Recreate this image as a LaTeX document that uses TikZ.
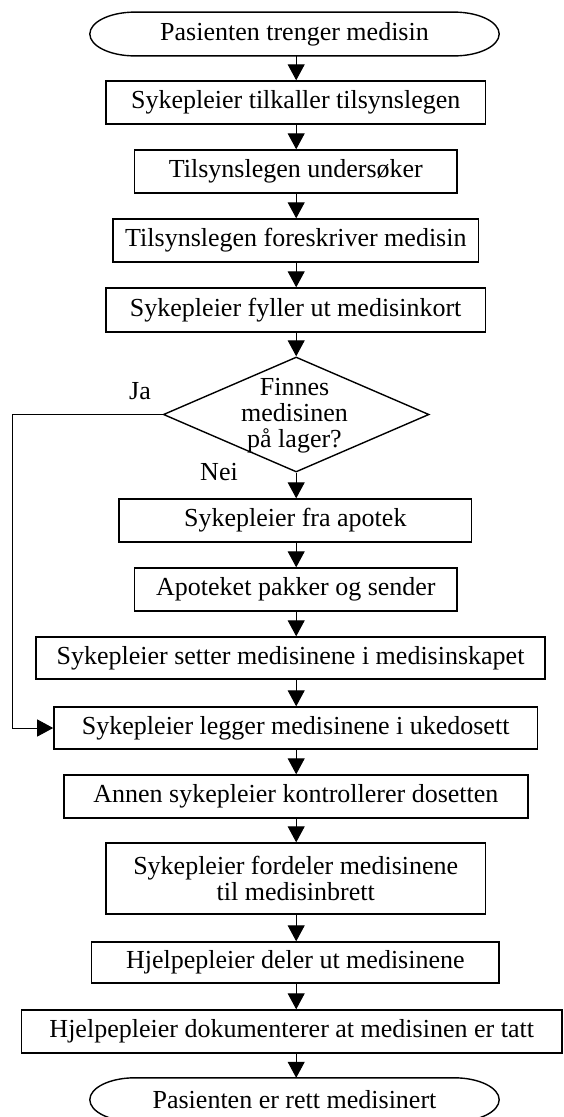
\documentclass[tikz,border=0pt]{standalone}
\usepackage{fontspec}
\setmainfont{Liberation Serif}
\usetikzlibrary{shapes.geometric,arrows.meta,calc}
\begin{document}
\begin{tikzpicture}[x=1pt,y=-1pt,
  every node/.style={font=\fontsize{26pt}{26pt}\selectfont, inner sep=0pt},
  box/.style={draw, line width=1.4pt, minimum height=43pt, align=center},
  term/.style={draw=none, minimum width=409pt, minimum height=43.4pt},
  dia/.style={draw, line width=1.4pt, shape=diamond, minimum width=265.7pt, minimum height=115pt},
  arr/.style={line width=1pt, -{Triangle[length=16pt,width=17pt]}},
  lbl/.style={font=\fontsize{26pt}{26pt}\selectfont}]
\useasboundingbox (0,0) rectangle (563,1117);

\node[term] (start) at (294.5,34) {Pasienten trenger medisin};
\node[box, minimum width=379.6pt] (b1) at (295.7,102.5) {Sykepleier tilkaller tilsynslegen};
\node[box, minimum width=322.5pt] (b2) at (295.9,171.5) {Tilsynslegen undersøker};
\node[box, minimum width=365.5pt] (b3) at (295.9,240.5) {Tilsynslegen foreskriver medisin};
\node[box, minimum width=379.6pt, minimum height=44pt] (b4) at (295.7,310) {Sykepleier fyller ut medisinkort};
\node[dia] (d) at (296.2,414.5) {};
\node[align=center] (dt) at (294.5,415.5) {Finnes\\medisinen\\på lager?};
\node[lbl] (ja) at (140,391) {Ja};
\node[lbl] (nei) at (219,472) {Nei};
\node[box, minimum width=352.3pt] (b5) at (295.3,520.5) {Sykepleier fra apotek};
\node[box, minimum width=322.5pt] (b6) at (295.9,589.5) {Apoteket pakker og sender};
\node[box, minimum width=509.2pt, minimum height=42pt] (b7) at (290.5,658) {Sykepleier setter medisinene i medisinskapet};
\node[box, minimum width=483.6pt, minimum height=42pt] (b8) at (295.7,728) {Sykepleier legger medisinene i ukedosett};
\node[box, minimum width=463.9pt] (b9) at (295.9,796.5) {Annen sykepleier kontrollerer dosetten};
\node[box, minimum width=379.6pt, minimum height=71pt] (b10) at (295.7,878.5) {Sykepleier fordeler medisinene\\til medisinbrett};
\node[box, minimum width=407.5pt, minimum height=41pt] (b11) at (295.3,962.5) {Hjelpepleier deler ut medisinene};
\node[box, minimum width=540.4pt] (b12) at (291.7,1031.5) {Hjelpepleier dokumenterer at medisinen er tatt};
\node[term] (end) at (294.5,1099.7) {Pasienten er rett medisinert};

\foreach \n in {start,end}
  \draw[line width=1.4pt] ([xshift=45pt]\n.north west) -- ([xshift=-45pt]\n.north east)
    .. controls ([xshift=-20.1pt]\n.north east) and ([yshift=12pt]\n.east) .. (\n.east)
    .. controls ([yshift=-12pt]\n.east) and ([xshift=-20.1pt]\n.south east) .. ([xshift=-45pt]\n.south east)
    -- ([xshift=45pt]\n.south west)
    .. controls ([xshift=20.1pt]\n.south west) and ([yshift=-12pt]\n.west) .. (\n.west)
    .. controls ([yshift=12pt]\n.west) and ([xshift=20.1pt]\n.north west) .. cycle;

\coordinate (c1) at (296.2,0);
\foreach \a/\b in {start/b1,b1/b2,b2/b3,b3/b4,b4/d,d/b5,b5/b6,b6/b7,b7/b8,b8/b9,b9/b10,b10/b11,b11/b12,b12/end}
  \draw[arr] (c1 |- \a.south) -- (c1 |- \b.north);

\coordinate (lx) at (12.6,0);
\draw[arr] (d.west) -- (lx |- d.west) -- (lx |- b8.west) -- (b8.west);
\end{tikzpicture}
\end{document}
